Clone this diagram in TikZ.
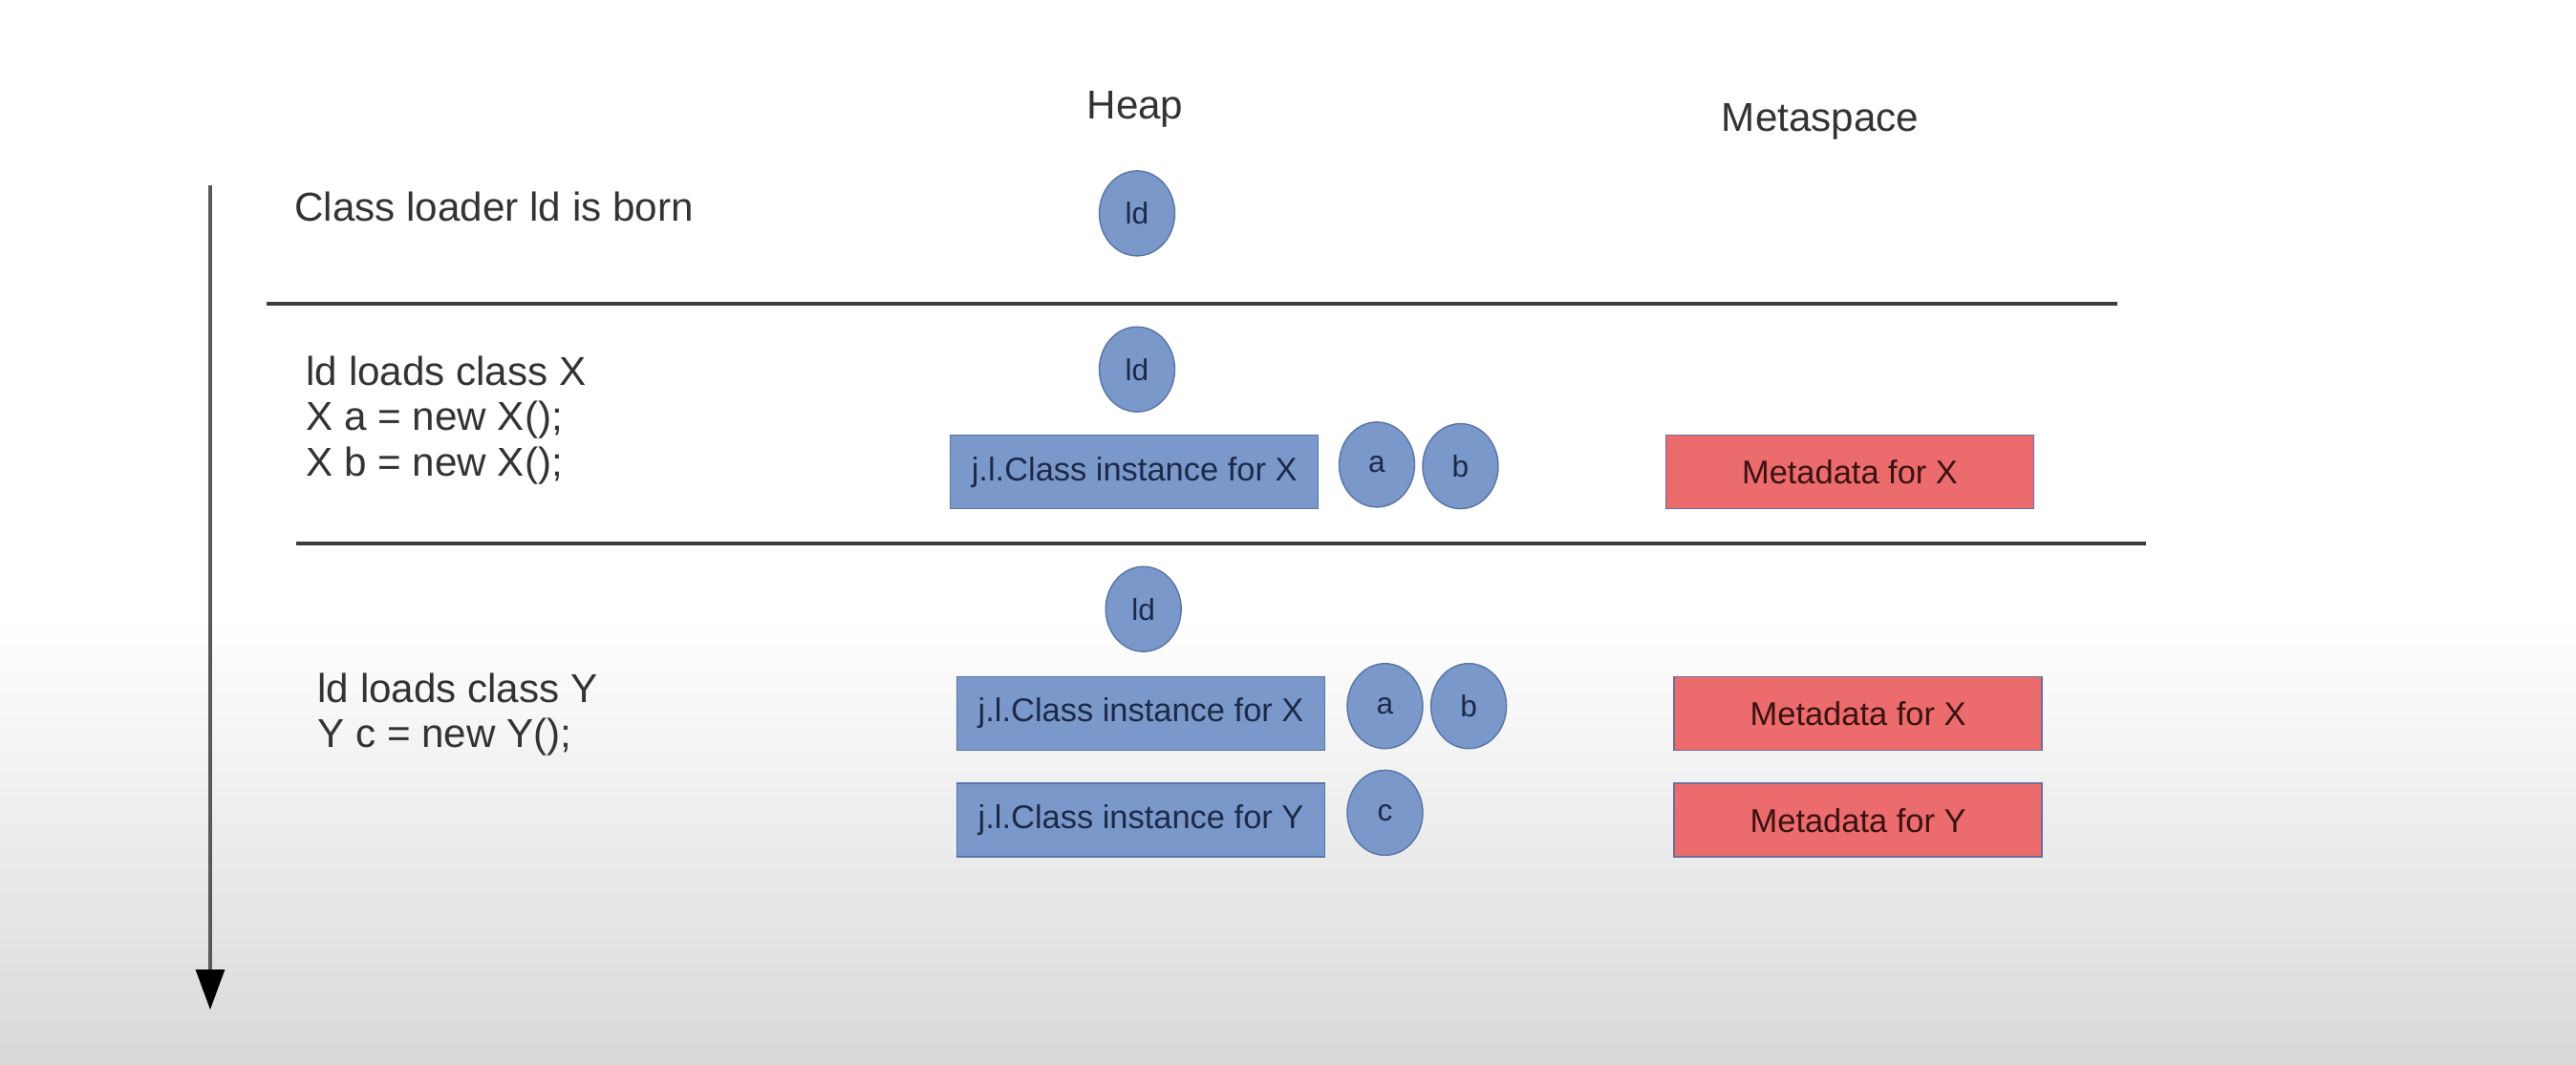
\documentclass[tikz,border=0pt]{standalone}
\usepackage{fontspec}
\setmainfont{Liberation Sans}
\usepackage{tikz}
\usetikzlibrary{arrows.meta,shapes.geometric}

\definecolor{objblue}{HTML}{7B98CB}
\definecolor{objedge}{HTML}{5A74A6}
\definecolor{objtext}{HTML}{1C2A48}
\definecolor{metared}{HTML}{EC6B6D}
\definecolor{metaedge}{HTML}{6C6E9C}
\definecolor{metatext}{HTML}{3A1212}
\definecolor{labeltext}{HTML}{333333}
\definecolor{rulegray}{HTML}{3C3C3C}

\begin{document}
\begin{tikzpicture}[>=latex,
		obj/.style={ellipse, draw=objedge, fill=objblue, text=objtext, minimum width=0.79cm, minimum height=0.89cm, inner sep=0pt, font=\fontsize{9}{10}\selectfont},
		jlclass/.style={rectangle, draw=objedge, fill=objblue, text=objtext, minimum width=3.85cm, minimum height=0.77cm, inner sep=0pt, font=\fontsize{9.8}{11}\selectfont},
		meta/.style={rectangle, draw=metaedge, fill=metared, text=metatext, minimum width=3.85cm, minimum height=0.77cm, inner sep=0pt, font=\fontsize{9.8}{11}\selectfont},
		stagetext/.style={anchor=west, align=left, text=labeltext, inner sep=0pt, font=\fontsize{12}{13.4}\selectfont},
		header/.style={text=labeltext, inner sep=0pt, font=\fontsize{12}{14}\selectfont}]
		%\draw [help lines] (0,0) grid (27,11);
		\useasboundingbox (0,0) rectangle (26.96,11.14);
		\fill [white] (0,0) rectangle (26.96,11.14);
		\shade [top color=white, bottom color=black!15] (0,0) rectangle (26.96,4.7);
		% time axis and stage separators
		\coordinate (tstart) at (2.20,9.20);
		\coordinate (tstop) at (2.20,0.57);
		\draw [line width=0.9pt, draw=black!65, -{Triangle[width=0.30cm,length=0.42cm,black]}] (tstart) -- (tstop);
		\coordinate (sep1w) at (2.785,7.96);
		\coordinate (sep1e) at (22.16,7.96);
		\coordinate (sep2w) at (3.095,5.45);
		\coordinate (sep2e) at (22.455,5.45);
		\draw [line width=1pt, rulegray] (sep1w) -- (sep1e);
		\draw [line width=1pt, rulegray] (sep2w) -- (sep2e);
		% column headers
		\node [header] (heap) at (11.88,10.0) {Heap};
		\node [header] (metaspace) at (19.05,9.87) {Metaspace};
		% stage 1
		\node [stagetext] (born) at (3.078,8.975) {Class loader ld is born};
		\node [obj] (ld1) at (11.90,8.906) {ld};
		% stage 2
		\node [stagetext] (loadx) at (3.198,6.74) {ld loads class X\\X a = new X();\\X b = new X();};
		\node [obj] (ld2) at (11.90,7.273) {ld};
		\node [jlclass] (jlcx1) at (11.872,6.198) {j.l.Class instance for X};
		\node [obj] (a1) at (14.41,6.276) {a};
		\node [obj] (b1) at (15.285,6.259) {b};
		\node [meta] (metax1) at (19.36,6.198) {Metadata for X};
		% stage 3
		\node [stagetext] (loady) at (3.318,3.66) {ld loads class Y\\Y c = new Y();};
		\node [obj] (ld3) at (11.967,4.763) {ld};
		\node [jlclass] (jlcx2) at (11.941,3.671) {j.l.Class instance for X};
		\node [obj] (a2) at (14.495,3.748) {a};
		\node [obj] (b2) at (15.371,3.748) {b};
		\node [meta] (metax2) at (19.446,3.671) {Metadata for X};
		\node [jlclass] (jlcy) at (11.941,2.553) {j.l.Class instance for Y};
		\node [obj] (c) at (14.495,2.631) {c};
		\node [meta] (metay) at (19.446,2.553) {Metadata for Y};
	\end{tikzpicture}
\end{document}
